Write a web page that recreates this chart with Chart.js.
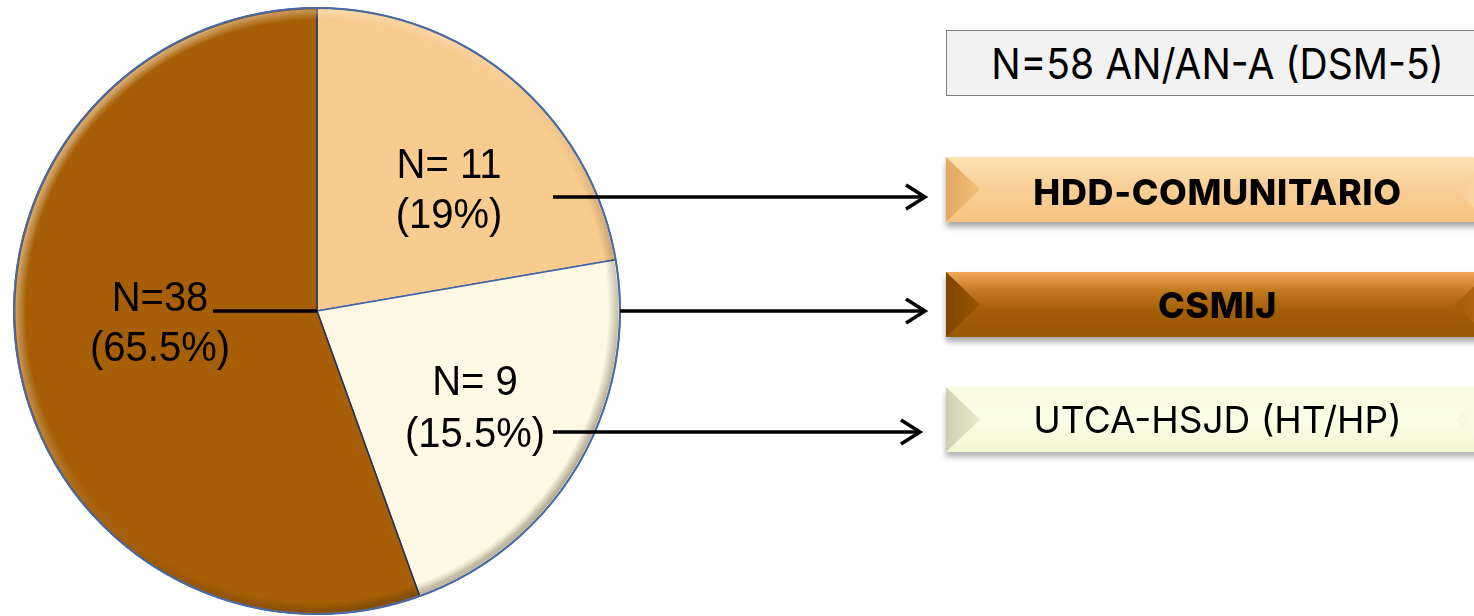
<!DOCTYPE html>
<html><head><meta charset="utf-8">
<script src="https://cdn.jsdelivr.net/npm/chart.js@4.4.1/dist/chart.umd.min.js"></script>
<style>
html,body{margin:0;padding:0;background:#fff;width:1474px;height:616px;overflow:hidden;}
#wrap{position:absolute;left:0;top:0;width:1474px;height:622px;}
.box{position:absolute;left:946px;width:543px;height:65px;box-sizing:border-box;display:flex;align-items:center;justify-content:center;font-family:Inter,'Open Sans',sans-serif;color:#000;overflow:hidden;}
.box span{position:relative;z-index:2;white-space:nowrap;}
.fl,.fr{position:absolute;top:0;width:34px;height:100%;z-index:1;}
.fl{left:0;clip-path:polygon(0 0,100% 50%,0 100%);}
.fr{right:0;clip-path:polygon(100% 0,0 50%,100% 100%);}
#b0{top:30px;height:66px;background:#F2F2F2;border:1.5px solid #7F7F7F;font-size:39px;}
#b0 span{transform:scaleY(1.08);}
#b1{top:157px;background:linear-gradient(#FDE3B6,#F9CF97 45%,#F6C482);box-shadow:0 5px 6px rgba(0,0,0,0.35);font-size:36px;font-weight:800;letter-spacing:0.6px;}
#b1 span{top:2px;}
#b1 .fl{background:linear-gradient(90deg,#E4A862,#F2BE7C);}
#b1 .fr{background:linear-gradient(270deg,#FCDCAA,#F8CD92);}
#b2{top:272px;background:linear-gradient(#F1A955,#C27820 30%,#A25D06 60%,#9A5600);box-shadow:0 5px 6px rgba(0,0,0,0.35);font-size:36px;font-weight:800;letter-spacing:0.6px;}
#b2 .fl{background:linear-gradient(90deg,#7E4300,#9A5600);}
#b2 .fr{background:linear-gradient(270deg,#B56C12,#A25D06);}
#b3{top:387px;background:linear-gradient(#F8FBE0,#FBFDE6 50%,#F3F6D4);box-shadow:0 5px 6px rgba(0,0,0,0.3);font-size:37px;font-weight:400;}
#b3 .fl{background:linear-gradient(90deg,#CFD0B0,#E8EACB);}
#b3 .fr{background:linear-gradient(270deg,#FAFCE8,#F5F7DA);}
</style>
</head>
<body>
<div id="wrap"><canvas id="c"></canvas></div>
<div class="box" id="b0"><span id="t0"></span></div>
<div class="box" id="b1"><div class="fl"></div><div class="fr"></div><span id="t1"></span></div>
<div class="box" id="b2"><div class="fl"></div><div class="fr"></div><span id="t2"></span></div>
<div class="box" id="b3"><div class="fl"></div><div class="fr"></div><span id="t3"></span></div>
<script>
// ---- data ----
const categories = ['HDD-COMUNITARIO', 'UTCA-HSJD (HT/HP)', 'CSMIJ'];
const patientCounts = [11, 9, 38];
const percentLabels = ['19%', '15.5%', '65.5%'];
const countLabels = ['N= 11', 'N= 9', 'N=38'];
// slice sizes as they are drawn in the figure (share of the full circle, %)
const drawnSliceShares = [22.3, 22.2, 55.5];
const totalLabel = 'N=58 AN/AN-A (DSM-5)';
const legendOrder = ['HDD-COMUNITARIO', 'CSMIJ', 'UTCA-HSJD (HT/HP)'];

// ---- styles ----
const sliceColors = ['#F8CB8E', '#FEF9E4', '#A65F06'];
const sliceBorders = ['#3F63A6', '#3F63A6', '#243152'];

document.getElementById('t0').textContent = totalLabel;
legendOrder.forEach((t, i) => document.getElementById('t' + (i + 1)).textContent = t);

const annot = {
  id: 'annot',
  afterDatasetsDraw(chart) {
    const meta = chart.getDatasetMeta(0);
    const a0 = meta.data[0];
    const cx = a0.x, cy = a0.y, r = a0.outerRadius;
    const ctx = chart.ctx;
    // bevel rim
    ctx.save();
    ctx.beginPath(); ctx.arc(cx, cy, r, 0, Math.PI * 2); ctx.clip();
    const g = ctx.createLinearGradient(cx - r * 0.7, cy - r * 0.7, cx + r * 0.7, cy + r * 0.7);
    g.addColorStop(0, 'rgba(255,235,200,0.55)');
    g.addColorStop(0.45, 'rgba(255,255,255,0.05)');
    g.addColorStop(0.6, 'rgba(0,0,0,0.03)');
    g.addColorStop(1, 'rgba(60,40,10,0.35)');
    ctx.strokeStyle = g; ctx.lineWidth = 1.2;
    const N = 12;
    for (let i = 2; i < N; i++) {
      ctx.globalAlpha = 1 - (i - 2) / (N - 2);
      ctx.beginPath(); ctx.arc(cx, cy, r - i, 0, Math.PI * 2); ctx.stroke();
    }
    ctx.restore();
    ctx.save();
    ctx.lineWidth = 2; ctx.strokeStyle = '#4A6AA5';
    ctx.beginPath(); ctx.arc(cx, cy, r, 0, Math.PI * 2); ctx.stroke();
    ctx.restore();

    // labels
    ctx.save();
    ctx.fillStyle = '#000';
    ctx.font = '40px "Liberation Sans", Arial, sans-serif';
    ctx.textAlign = 'center'; ctx.textBaseline = 'alphabetic';
    const labelPos = [[132, -133, -83], [158, 84, 136], [-157, 0, 50]];
    const sy = 1.08;
    labelPos.forEach((p, i) => {
      ctx.save(); ctx.translate(cx + p[0], cy + p[1]); ctx.scale(1, sy);
      ctx.fillText(countLabels[i], 0, 0); ctx.restore();
      ctx.save(); ctx.translate(cx + p[0], cy + p[2]); ctx.scale(1, sy);
      ctx.fillText('(' + percentLabels[i] + ')', 0, 0); ctx.restore();
    });
    // connectors
    ctx.strokeStyle = '#000'; ctx.lineWidth = 3.5; ctx.lineCap = 'butt';
    const arrows = [[cx + 236, cy - 114, 925], [cx + r, cy, 925], [cx + 236, cy + 121, 920]];
    arrows.forEach(([x0, y, x1]) => {
      ctx.beginPath(); ctx.moveTo(x0, y); ctx.lineTo(x1, y); ctx.stroke();
      ctx.beginPath(); ctx.moveTo(x1 - 19, y - 12); ctx.lineTo(x1, y); ctx.lineTo(x1 - 19, y + 12); ctx.stroke();
    });
    ctx.beginPath(); ctx.moveTo(cx - 104, cy); ctx.lineTo(cx, cy); ctx.stroke();
    ctx.restore();
  }
};

new Chart(document.getElementById('c'), {
  type: 'pie',
  data: {
    labels: categories,
    datasets: [{
      data: drawnSliceShares,
      backgroundColor: sliceColors,
      borderColor: sliceBorders,
      borderWidth: 1.5,
      hoverOffset: 0
    }]
  },
  options: {
    responsive: true,
    maintainAspectRatio: false,
    animation: false,
    radius: 303,
    layout: { padding: { left: 0, right: 840, top: 0, bottom: 0 } },
    plugins: { legend: { display: false }, tooltip: { enabled: false } },
    events: []
  },
  plugins: [annot]
});
</script>
</body></html>
